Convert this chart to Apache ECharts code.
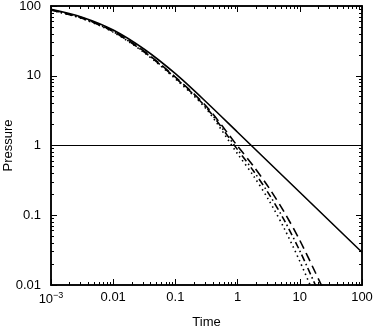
<!DOCTYPE html>
<html>
<head>
<meta charset="utf-8">
<script src="https://cdn.jsdelivr.net/npm/echarts@6/dist/echarts.min.js"></script>
<style>html,body{margin:0;padding:0;background:#fff}#c{width:374px;height:328px}</style>
</head>
<body>
<div id="c"></div>
<script>
// Time values (x) and Pressure values (y)
const timeSolid   = [0.001, 0.00316, 0.01, 0.0316, 0.1, 0.316, 1, 3.16, 10, 31.6, 100];
const solid       = [89.7, 69.2, 45.3, 24.0, 10.7, 4.17, 1.55, 0.575, 0.214, 0.0794, 0.0295];

const timeLong    = [0.001, 0.00316, 0.01, 0.0316, 0.1, 0.316, 1, 1.78, 3.16, 5.62, 10, 17.8, 22.4, 28.2];
const longDash    = [88.1, 67.6, 43.7, 22.4, 9.55, 3.63, 0.977, 0.513, 0.251, 0.111, 0.0437, 0.0151, 0.0098, 0.0063];

const timeDashDot = [0.001, 0.00316, 0.01, 0.0316, 0.1, 0.316, 1, 1.78, 3.16, 5.62, 10, 17.8, 22.4];
const dashDot     = [87.5, 66.8, 42.9, 21.9, 9.33, 3.47, 0.871, 0.437, 0.204, 0.0851, 0.0309, 0.0100, 0.0063];

const timeDot     = [0.001, 0.00316, 0.01, 0.0316, 0.1, 0.316, 1, 1.78, 3.16, 5.62, 10, 17.8];
const dotted      = [87.1, 66.1, 42.2, 21.4, 9.02, 3.31, 0.759, 0.372, 0.166, 0.0646, 0.0219, 0.0066];

const refLevel    = 1;

const xMajor = [0.001, 0.01, 0.1, 1, 10, 100];
const yMajor = [0.01, 0.1, 1, 10, 100];
const xLabels = ['10{s|−3}', '0.01', '0.1', '1', '10', '100'];
const yLabels = ['0.01', '0.1', '1', '10', '100'];

function minors(lo, hi) {
  const out = [];
  for (let d = lo; d < hi; d *= 10) for (let k = 2; k <= 9; k++) out.push(+(d * k).toPrecision(3));
  return out;
}
const xMinor = minors(0.001, 100);
const yMinor = minors(0.01, 100);

function zip(a, b) { return a.map((v, i) => [v, b[i]]); }

const FONT = 'Liberation Sans';
const chart = echarts.init(document.getElementById('c'), null, {renderer: 'canvas'});

function ax(kind, pos, ticks, len, extra) {
  return Object.assign({
    type: 'log', logBase: 10,
    min: kind === 'x' ? 0.001 : 0.01, max: 100, position: pos,
    axisLine: {show: true, onZero: false, lineStyle: {color: '#000', width: 1.5}},
    axisTick: {show: true, inside: true, length: len, customValues: ticks, lineStyle: {color: '#000', width: 1}},
    axisLabel: {show: false},
    splitLine: {show: false}, minorTick: {show: false}
  }, extra || {});
}

const xAxes = [
  ax('x', 'bottom', xMajor, 6, {
    name: 'Time', nameLocation: 'middle', nameGap: 31, nameMoveOverlap: false,
    nameTextStyle: {fontFamily: FONT, fontSize: 13, color: '#000'},
    axisLabel: {
      show: true, customValues: xMajor, margin: 6, color: '#000', fontFamily: FONT, fontSize: 13,
      formatter: function (v) { const i = xMajor.findIndex(m => Math.abs(m - v) / m < 1e-6); return i >= 0 ? xLabels[i] : ''; },
      rich: {s: {fontSize: 9, verticalAlign: 'top', padding: [0, 0, 7, 0], color: '#000', fontFamily: FONT}}
    }
  }),
  ax('x', 'bottom', xMinor, 3),
  ax('x', 'top', xMajor, 6),
  ax('x', 'top', xMinor, 3)
];
const yAxes = [
  ax('y', 'left', yMajor, 6, {
    name: 'Pressure', nameLocation: 'middle', nameGap: 36, nameRotate: 90, nameMoveOverlap: false,
    nameTextStyle: {fontFamily: FONT, fontSize: 13, color: '#000'},
    axisLabel: {
      show: true, customValues: yMajor, margin: 10, color: '#000', fontFamily: FONT, fontSize: 13,
      formatter: function (v) { const i = yMajor.findIndex(m => Math.abs(m - v) / m < 1e-6); return i >= 0 ? yLabels[i] : ''; }
    }
  }),
  ax('y', 'left', yMinor, 3),
  ax('y', 'right', yMajor, 6),
  ax('y', 'right', yMinor, 3)
];

function lineSeries(name, xs, ys, type, width) {
  return {
    name: name, type: 'line', xAxisIndex: 0, yAxisIndex: 0,
    data: zip(xs, ys), showSymbol: false, smooth: 0.3, clip: true,
    lineStyle: {color: '#000', width: width, type: type, cap: 'butt'},
    silent: true, animation: false
  };
}

chart.setOption({
  animation: false,
  backgroundColor: '#fff',
  grid: {left: 51, right: 12, top: 6, bottom: 43, containLabel: false, outerBoundsMode: 'none'},
  xAxis: xAxes,
  yAxis: yAxes,
  series: [
    Object.assign(lineSeries('solid', timeSolid, solid, 'solid', 1.6), {
      markLine: {
        silent: true, symbol: ['none', 'none'], label: {show: false},
        lineStyle: {color: '#000', width: 1, type: 'solid'},
        data: [{yAxis: refLevel}]
      }
    }),
    lineSeries('long', timeLong, longDash, [9, 5], 1.6),
    lineSeries('dashdot', timeDashDot, dashDot, [7, 3, 1.5, 3], 1.6),
    lineSeries('dot', timeDot, dotted, [1.5, 3.5], 1.6)
  ]
});
</script>
</body>
</html>
